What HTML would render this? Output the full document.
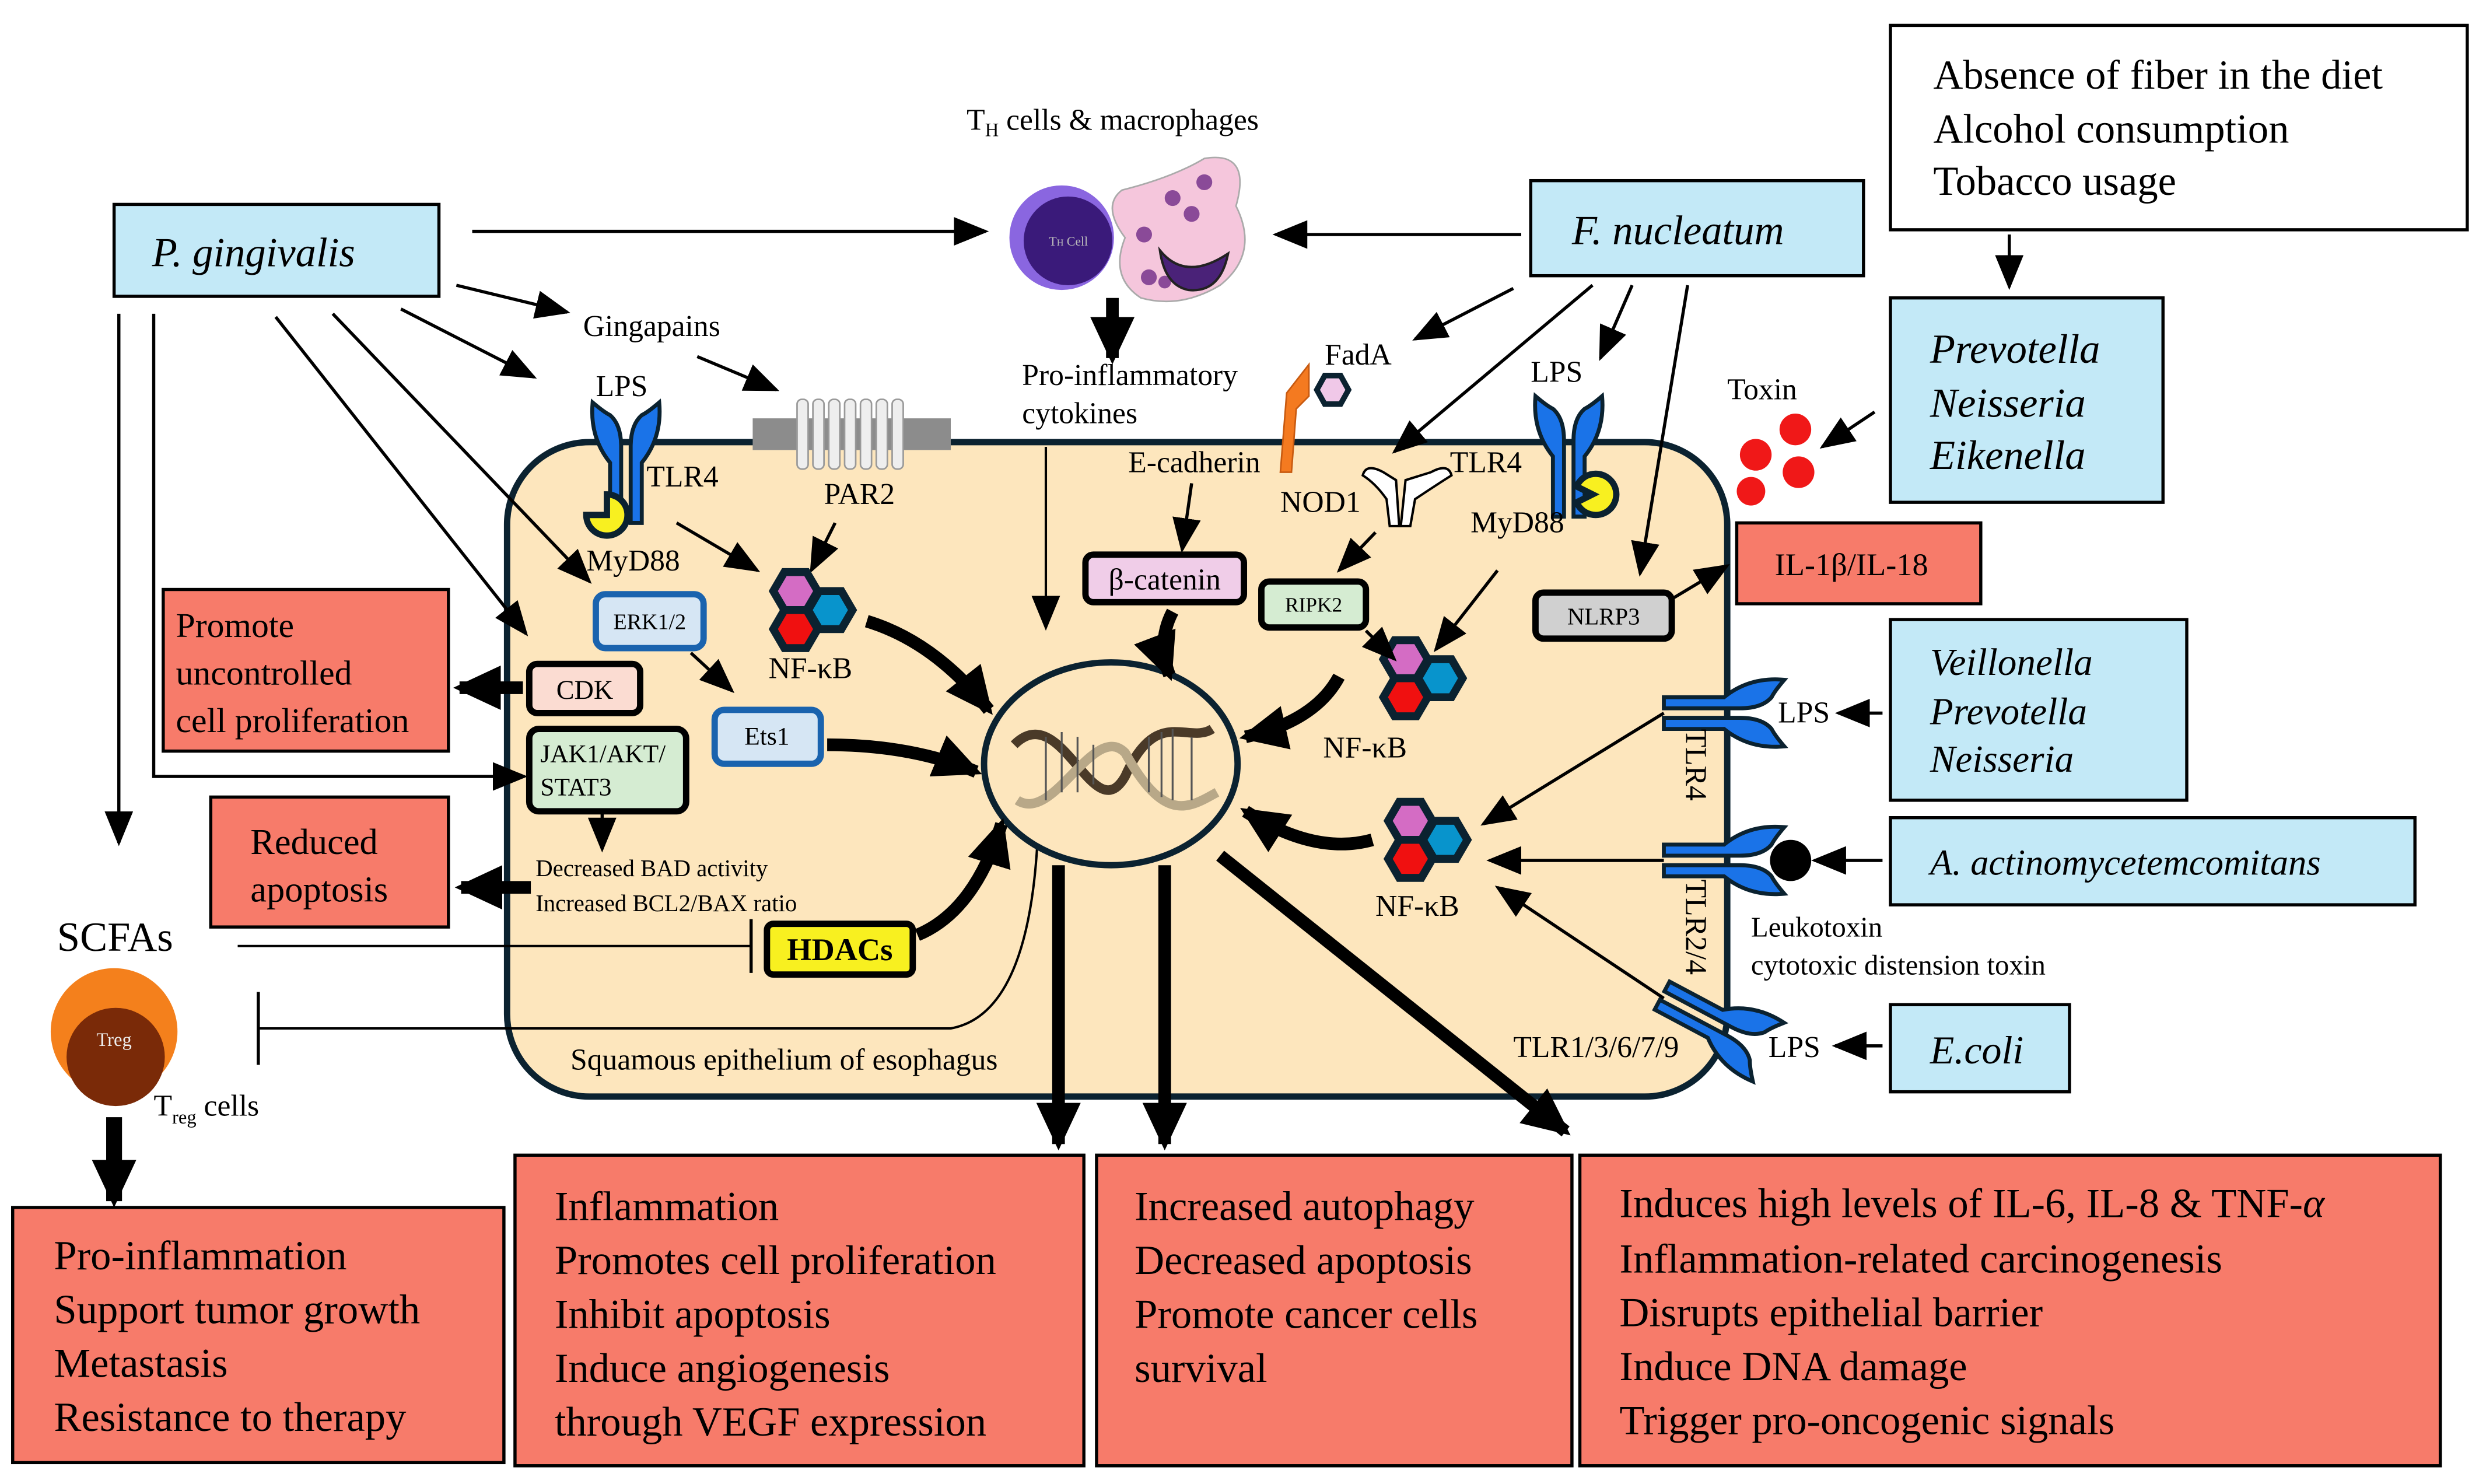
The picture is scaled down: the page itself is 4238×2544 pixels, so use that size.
<!DOCTYPE html>
<html><head><meta charset="utf-8"><style>
html,body{margin:0;padding:0;background:#fff;width:4238px;height:2544px;overflow:hidden}
svg{display:block}
text{font-family:"Liberation Serif",serif;fill:#000}
.it{font-style:italic}
</style></head><body>
<svg width="4238" height="2544" viewBox="0 0 1560 936.5" preserveAspectRatio="none" xmlns="http://www.w3.org/2000/svg">
<defs>
<marker id="a" markerUnits="userSpaceOnUse" markerWidth="22" markerHeight="18" refX="20" refY="9" orient="auto"><path d="M0,0 L22,9 L0,18 z" fill="#000"/></marker>
<marker id="b" markerUnits="userSpaceOnUse" markerWidth="30" markerHeight="28" refX="26" refY="14" orient="auto"><path d="M0,0 L30,14 L0,28 z" fill="#000"/></marker>
<g id="hx"><path d="M14,0 L7,12 L-7,12 L-14,0 L-7,-12 L7,-12 z" stroke="#0b2230" stroke-width="5"/></g>
<g id="nf">
<use href="#hx" x="-8" y="-12" fill="#d46cc4"/>
<use href="#hx" x="-8" y="12" fill="#f01010"/>
<use href="#hx" x="14" y="0" fill="#0894cc"/>
</g>
<g id="tlr">
<path d="M-21,-34 Q-14,-28 -10,-26 Q-3,-20 -3,-6 L-3,42 L-10,42 L-10,4 Q-23,-12 -21,-34 z" fill="#1a73e8" stroke="#0b2230" stroke-width="2.5"/>
<path d="M21,-34 Q14,-28 10,-26 Q3,-20 3,-6 L3,42 L10,42 L10,4 Q23,-12 21,-34 z" fill="#1a73e8" stroke="#0b2230" stroke-width="2.5"/>
</g>
</defs>

<rect x="320" y="279" width="770" height="413" rx="52" fill="#fde6bd" stroke="#0b2230" stroke-width="4"/>

<rect x="1193" y="16" width="364" height="129" fill="#fff" stroke="#000" stroke-width="2"/>
<text x="1220" y="56" font-size="26">Absence of fiber in the diet</text>
<text x="1220" y="90" font-size="26">Alcohol consumption</text>
<text x="1220" y="123" font-size="26">Tobacco usage</text>
<line x1="1268" y1="148" x2="1268" y2="181" stroke="#000" stroke-width="2" marker-end="url(#a)"/>

<g fill="#c3e9f7" stroke="#000" stroke-width="2">
<rect x="72" y="129" width="205" height="58"/>
<rect x="966" y="114" width="210" height="60"/>
<rect x="1193" y="188" width="172" height="129"/>
<rect x="1193" y="391" width="187" height="114"/>
<rect x="1193" y="516" width="331" height="55"/>
<rect x="1193" y="634" width="113" height="55"/>
</g>
<text x="96" y="168" font-size="26" class="it">P. gingivalis</text>
<text x="992" y="154" font-size="26" class="it">F. nucleatum</text>
<text x="1218" y="229" font-size="26" class="it">Prevotella</text>
<text x="1218" y="263" font-size="26" class="it">Neisseria</text>
<text x="1218" y="296" font-size="26" class="it">Eikenella</text>
<text x="1218" y="426" font-size="24" class="it">Veillonella</text>
<text x="1218" y="457" font-size="24" class="it">Prevotella</text>
<text x="1218" y="487" font-size="24" class="it">Neisseria</text>
<text x="1218" y="552" font-size="23" class="it">A. actinomycetemcomitans</text>
<text x="1218" y="671" font-size="25" class="it">E.coli</text>

<g fill="#f77b6a" stroke="#000" stroke-width="2">
<rect x="103" y="372" width="180" height="102"/>
<rect x="133" y="503" width="150" height="82"/>
<rect x="1096" y="330" width="154" height="51"/>
<rect x="8" y="762" width="310" height="161"/>
<rect x="325" y="729" width="359" height="196"/>
<rect x="692" y="729" width="300" height="196"/>
<rect x="997" y="729" width="543" height="196"/>
</g>
<text x="111" y="402" font-size="22">Promote</text>
<text x="111" y="432" font-size="22">uncontrolled</text>
<text x="111" y="462" font-size="22">cell proliferation</text>
<text x="158" y="539" font-size="23">Reduced</text>
<text x="158" y="569" font-size="23">apoptosis</text>
<text x="1120" y="363" font-size="20">IL-1β/IL-18</text>
<g font-size="26">
<text x="34" y="801">Pro-inflammation</text>
<text x="34" y="835">Support tumor growth</text>
<text x="34" y="869">Metastasis</text>
<text x="34" y="903">Resistance to therapy</text>
<text x="350" y="770">Inflammation</text>
<text x="350" y="804">Promotes cell proliferation</text>
<text x="350" y="838">Inhibit apoptosis</text>
<text x="350" y="872">Induce angiogenesis</text>
<text x="350" y="906">through VEGF expression</text>
<text x="716" y="770">Increased autophagy</text>
<text x="716" y="804">Decreased apoptosis</text>
<text x="716" y="838">Promote cancer cells</text>
<text x="716" y="872">survival</text>
<text x="1022" y="768">Induces high levels of IL-6, IL-8 &amp; TNF-<tspan font-style="italic">α</tspan></text>
<text x="1022" y="803">Inflammation-related carcinogenesis</text>
<text x="1022" y="837">Disrupts epithelial barrier</text>
<text x="1022" y="871">Induce DNA damage</text>
<text x="1022" y="905">Trigger pro-oncogenic signals</text>
</g>

<text x="610" y="82" font-size="19">T<tspan font-size="12" dy="4">H</tspan><tspan dy="-4"> cells &amp; macrophages</tspan></text>
<circle cx="670" cy="150" r="33" fill="#8a66e0"/>
<circle cx="674" cy="152" r="28" fill="#3a1a7a"/>
<text x="662" y="155" font-size="8" style="fill:#bbb">T<tspan font-size="6">H</tspan> Cell</text>
<path d="M708,120 Q740,112 760,100 Q790,95 780,130 Q795,160 770,180 Q745,195 720,188 Q700,175 710,150 Q695,130 708,120 z" fill="#f5c6dc" stroke="#aaa" stroke-width="1"/>
<g fill="#8a4a98"><circle cx="740" cy="125" r="5"/><circle cx="760" cy="115" r="5"/><circle cx="752" cy="135" r="5"/><circle cx="725" cy="175" r="5"/><circle cx="722" cy="148" r="5"/><circle cx="735" cy="178" r="4"/></g>
<path d="M732,158 Q748,178 775,160 Q770,185 750,183 Q735,180 732,158 z" fill="#4a2278" stroke="#222" stroke-width="1.5"/>
<line x1="298" y1="146" x2="622" y2="146" stroke="#000" stroke-width="2" marker-end="url(#a)"/>
<line x1="960" y1="148" x2="805" y2="148" stroke="#000" stroke-width="2" marker-end="url(#a)"/>
<line x1="702" y1="188" x2="702" y2="226" stroke="#000" stroke-width="8" marker-end="url(#b)"/>
<text x="645" y="243" font-size="19">Pro-inflammatory</text>
<text x="645" y="267" font-size="19">cytokines</text>
<line x1="660" y1="282" x2="660" y2="396" stroke="#000" stroke-width="1.5" marker-end="url(#a)"/>

<text x="368" y="212" font-size="19">Gingapains</text>
<g stroke="#000" stroke-width="2" fill="none">
<line x1="288" y1="180" x2="358" y2="197" marker-end="url(#a)"/>
<line x1="253" y1="195" x2="337" y2="238" marker-end="url(#a)"/>
<line x1="440" y1="225" x2="490" y2="246" marker-end="url(#a)"/>
<line x1="210" y1="198" x2="372" y2="367" marker-end="url(#a)"/>
<line x1="174" y1="200" x2="332" y2="400" marker-end="url(#a)"/>
<polyline points="97,198 97,490 331,490" marker-end="url(#a)"/>
<line x1="75" y1="198" x2="75" y2="532" marker-end="url(#a)"/>
</g>

<text x="376" y="250" font-size="19">LPS</text>
<use href="#tlr" x="395" y="288"/>
<text x="408" y="307" font-size="19">TLR4</text>
<path d="M383,325 m-13,0 a13,13 0 1,0 13,-13 l0,13 z" fill="#f8f020" stroke="#0b2230" stroke-width="4"/>
<text x="370" y="360" font-size="19">MyD88</text>
<rect x="475" y="264" width="125" height="20" fill="#8c8c8c"/>
<g fill="#eee" stroke="#999" stroke-width="1">
<rect x="503" y="252" width="7" height="44" rx="3"/><rect x="513" y="252" width="7" height="44" rx="3"/><rect x="523" y="252" width="7" height="44" rx="3"/><rect x="533" y="252" width="7" height="44" rx="3"/><rect x="543" y="252" width="7" height="44" rx="3"/><rect x="553" y="252" width="7" height="44" rx="3"/><rect x="563" y="252" width="7" height="44" rx="3"/>
</g>
<text x="520" y="318" font-size="19">PAR2</text>
<g stroke="#000" stroke-width="2">
<line x1="427" y1="330" x2="478" y2="360" marker-end="url(#a)"/>
<line x1="527" y1="330" x2="512" y2="360" marker-end="url(#a)"/>
<line x1="436" y1="412" x2="462" y2="436" marker-end="url(#a)"/>
<line x1="380" y1="513" x2="380" y2="536" marker-end="url(#a)"/>
</g>
<use href="#nf" x="510" y="385"/>
<text x="485" y="428" font-size="19">NF-κB</text>

<rect x="376" y="375" width="68" height="34" rx="6" fill="#d6e6f4" stroke="#1a63ae" stroke-width="4"/>
<text x="410" y="397" font-size="14" text-anchor="middle">ERK1/2</text>
<rect x="451" y="448" width="67" height="34" rx="6" fill="#d6e6f4" stroke="#1a63ae" stroke-width="4"/>
<text x="484" y="470" font-size="16" text-anchor="middle">Ets1</text>
<rect x="334" y="419" width="70" height="31" rx="5" fill="#fbdcd2" stroke="#000" stroke-width="4"/>
<text x="369" y="441" font-size="17" text-anchor="middle">CDK</text>
<rect x="334" y="460" width="99" height="52" rx="6" fill="#d5ecd2" stroke="#000" stroke-width="4"/>
<text x="341" y="481" font-size="16">JAK1/AKT/</text>
<text x="341" y="502" font-size="16">STAT3</text>
<line x1="330" y1="434" x2="290" y2="434" stroke="#000" stroke-width="8" marker-end="url(#b)"/>
<line x1="335" y1="560" x2="291" y2="560" stroke="#000" stroke-width="8" marker-end="url(#b)"/>
<text x="338" y="553" font-size="15">Decreased BAD activity</text>
<text x="338" y="575" font-size="15">Increased BCL2/BAX ratio</text>
<rect x="484" y="583" width="92" height="32" rx="4" fill="#f8f020" stroke="#000" stroke-width="4"/>
<text x="530" y="606" font-size="20" font-weight="bold" text-anchor="middle">HDACs</text>

<text x="36" y="600" font-size="26">SCFAs</text>
<circle cx="72" cy="651" r="40" fill="#f4801c"/>
<circle cx="73" cy="667" r="31" fill="#7a2a08"/>
<text x="72" y="660" font-size="12" text-anchor="middle" style="fill:#eee">Treg</text>
<text x="97" y="704" font-size="19">T<tspan font-size="12" dy="5">reg</tspan><tspan dy="-5"> cells</tspan></text>
<line x1="72" y1="705" x2="72" y2="758" stroke="#000" stroke-width="10" marker-end="url(#b)"/>
<g stroke="#000" stroke-width="1.5" fill="none">
<line x1="150" y1="597" x2="474" y2="597"/>
<line x1="474" y1="580" x2="474" y2="614" stroke-width="2"/>
<path d="M163,649 L600,649 Q650,640 655,525"/>
<line x1="163" y1="626" x2="163" y2="672" stroke-width="2"/>
</g>
<text x="360" y="675" font-size="19">Squamous epithelium of esophagus</text>

<ellipse cx="701" cy="482" rx="80" ry="64" fill="#fde6bd" stroke="#0b2230" stroke-width="4"/>
<path d="M640,470 C670,440 690,525 710,490 C730,445 750,470 765,460" fill="none" stroke="#4a3a28" stroke-width="6"/>
<path d="M642,505 C665,520 690,455 710,475 C735,520 750,510 768,500" fill="none" stroke="#b8a888" stroke-width="6"/>
<g stroke="#555" stroke-width="1.2"><line x1="660" y1="465" x2="660" y2="505"/><line x1="670" y1="462" x2="670" y2="500"/><line x1="680" y1="465" x2="680" y2="500"/><line x1="690" y1="470" x2="690" y2="495"/><line x1="725" y1="465" x2="725" y2="500"/><line x1="733" y1="462" x2="733" y2="503"/><line x1="740" y1="460" x2="740" y2="505"/><line x1="752" y1="465" x2="752" y2="505"/></g>

<g stroke="#000" stroke-width="8" fill="none">
<path d="M547,392 Q590,405 624,448" marker-end="url(#b)"/>
<path d="M522,470 Q575,470 616,487" marker-end="url(#b)"/>
<path d="M579,590 Q615,575 632,520" marker-end="url(#b)"/>
<path d="M740,386 Q730,405 738,426" marker-end="url(#b)"/>
<path d="M845,427 Q830,455 786,465" marker-end="url(#b)"/>
<path d="M866,530 Q830,540 786,512" marker-end="url(#b)"/>
<line x1="668" y1="546" x2="668" y2="722" marker-end="url(#b)"/>
<line x1="735" y1="546" x2="735" y2="722" marker-end="url(#b)"/>
<line x1="770" y1="540" x2="988" y2="714" marker-end="url(#b)"/>
</g>

<text x="712" y="298" font-size="19">E-cadherin</text>
<path d="M808,298 L812,248 L826,230 L826,250 L818,258 L815,298 z" fill="#f47a20" stroke="#c85a10" stroke-width="1"/>
<path d="M851,246 L846,255 L836,255 L831,246 L836,237 L846,237 z" fill="#f0c8e8" stroke="#0b2230" stroke-width="3.5"/>
<text x="836" y="230" font-size="19">FadA</text>
<rect x="685" y="350" width="100" height="30" rx="5" fill="#f0cde8" stroke="#000" stroke-width="4"/>
<text x="735" y="372" font-size="19" text-anchor="middle">β-catenin</text>
<path d="M873,298 Q862,292 860,300 Q868,305 875,315 L877,332 L883,332 L881,303 Z" fill="#fff" stroke="#000" stroke-width="1.5"/>
<path d="M903,298 Q914,292 916,300 Q908,305 893,315 L890,332 L884,332 L887,303 Z" fill="#fff" stroke="#000" stroke-width="1.5"/>
<text x="808" y="323" font-size="19">NOD1</text>
<text x="915" y="298" font-size="19">TLR4</text>
<rect x="796" y="367" width="66" height="29" rx="5" fill="#d5ecd2" stroke="#000" stroke-width="4"/>
<text x="829" y="386" font-size="13" text-anchor="middle">RIPK2</text>
<text x="966" y="241" font-size="19">LPS</text>
<use href="#tlr" x="990" y="284"/>
<path d="M1005,312 m-10,5 a13,13 0 1,0 0,-10 l10,5 z" fill="#f8f020" stroke="#0b2230" stroke-width="4"/>
<text x="928" y="336" font-size="19">MyD88</text>
<rect x="969" y="374" width="86" height="29" rx="5" fill="#d0d0d0" stroke="#000" stroke-width="4"/>
<text x="1012" y="394" font-size="15" text-anchor="middle">NLRP3</text>
<use href="#nf" x="895" y="428"/>
<text x="835" y="478" font-size="19">NF-κB</text>
<use href="#nf" x="898" y="530"/>
<text x="868" y="578" font-size="19">NF-κB</text>
<g stroke="#000" stroke-width="2">
<line x1="752" y1="305" x2="746" y2="347" marker-end="url(#a)"/>
<line x1="868" y1="336" x2="845" y2="360" marker-end="url(#a)"/>
<line x1="862" y1="398" x2="880" y2="416" marker-end="url(#a)"/>
<line x1="945" y1="360" x2="906" y2="410" marker-end="url(#a)"/>
<line x1="955" y1="182" x2="893" y2="214" marker-end="url(#a)"/>
<line x1="1005" y1="180" x2="880" y2="285" marker-end="url(#a)"/>
<line x1="1030" y1="180" x2="1010" y2="226" marker-end="url(#a)"/>
<line x1="1065" y1="180" x2="1035" y2="362" marker-end="url(#a)"/>
<line x1="1055" y1="378" x2="1090" y2="357" marker-end="url(#a)"/>
<line x1="1183" y1="260" x2="1150" y2="282" marker-end="url(#a)"/>
<line x1="1050" y1="450" x2="936" y2="520" marker-end="url(#a)"/>
<line x1="1050" y1="543" x2="940" y2="543" marker-end="url(#a)"/>
<line x1="1050" y1="630" x2="945" y2="560" marker-end="url(#a)"/>
<line x1="1188" y1="450" x2="1160" y2="450" marker-end="url(#a)"/>
<line x1="1188" y1="543" x2="1145" y2="543" marker-end="url(#a)"/>
<line x1="1188" y1="660" x2="1158" y2="660" marker-end="url(#a)"/>
</g>
<text x="1090" y="252" font-size="19">Toxin</text>
<g fill="#f01818"><circle cx="1108" cy="287" r="10"/><circle cx="1133" cy="271" r="10"/><circle cx="1135" cy="298" r="10"/><circle cx="1105" cy="310" r="9"/></g>

<use href="#tlr" transform="translate(1092,450) rotate(90)"/>
<use href="#tlr" transform="translate(1092,543) rotate(90)"/>
<use href="#tlr" transform="translate(1086,648) rotate(118)"/>
<circle cx="1130" cy="543" r="13" fill="#000"/>
<text x="1122" y="456" font-size="19">LPS</text>
<text x="1116" y="667" font-size="19">LPS</text>
<text x="1105" y="591" font-size="18">Leukotoxin</text>
<text x="1105" y="615" font-size="18">cytotoxic distension toxin</text>
<text transform="translate(1064,460) rotate(90)" font-size="19">TLR4</text>
<text transform="translate(1064,555) rotate(90)" font-size="19">TLR2/4</text>
<text x="955" y="667" font-size="19">TLR1/3/6/7/9</text>
</svg>
</body></html>
